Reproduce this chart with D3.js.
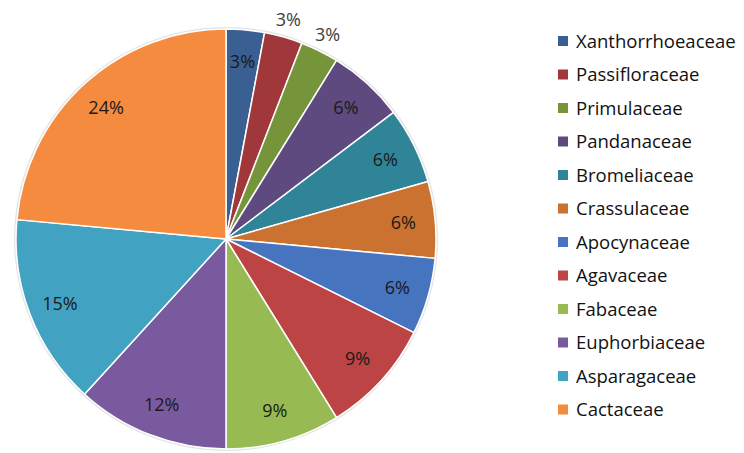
<!DOCTYPE html>
<html><head><meta charset="utf-8">
<script src="https://cdn.jsdelivr.net/npm/d3@7"></script>
<style>body{margin:0;background:#fff;}svg{display:block;}</style>
</head><body>
<svg id="c" width="744" height="453"></svg>
<script>
const categories = ["Xanthorrhoeaceae","Passifloraceae","Primulaceae","Pandanaceae","Bromeliaceae","Crassulaceae","Apocynaceae","Agavaceae","Fabaceae","Euphorbiaceae","Asparagaceae","Cactaceae"];
const counts = [1,1,1,2,2,2,2,3,3,4,5,8];
const colors = ["#3A5F92","#A0373A","#76953A","#5F4A80","#2F8498","#CB7230","#4774BE","#BC4444","#97BB52","#7A5A9E","#42A2C2","#F58B3E"];
const outsideLabels = ["Passifloraceae","Primulaceae"];

const svg = d3.select("#c");
const cx = 226, cy = 239, R = 210;
const total = d3.sum(counts);
const data = categories.map((c,i)=>({name:c, value:counts[i], color:colors[i]}));
const pie = d3.pie().value(d=>d.value).sort(null);
const arcs = pie(data);
const arc = d3.arc().innerRadius(0).outerRadius(R);
const g = svg.append("g").attr("transform",`translate(${cx},${cy})`);
g.append("circle").attr("r",R+1).attr("fill","none").attr("stroke","#e4e4e4").attr("stroke-width",2);
g.selectAll("path").data(arcs).join("path")
  .attr("d",arc).attr("fill",d=>d.data.color)
  .attr("stroke","#fff").attr("stroke-width",1.5).attr("stroke-linejoin","round");
const inArc = d3.arc().innerRadius(178).outerRadius(178);
const outArc = d3.arc().innerRadius(228).outerRadius(228);
const fmt = v => Math.round(v/total*100)+"%";
g.selectAll("text.lbl").data(arcs).join("text").attr("class","lbl")
  .attr("transform",d=>`translate(${(outsideLabels.includes(d.data.name)?outArc:inArc).centroid(d)})`)
  .attr("text-anchor","middle").attr("dy","0.36em")
  .attr("font-family","'Open Sans', sans-serif").attr("font-size",18)
  .attr("fill",d=>outsideLabels.includes(d.data.name)?"#404040":"#1a1a1a")
  .text(d=>fmt(d.data.value));

const legend = svg.append("g");
const y0 = 41, dy = 33.5;
const items = legend.selectAll("g").data(data).join("g")
  .attr("transform",(d,i)=>`translate(558,${y0+i*dy})`);
items.append("rect").attr("x",0).attr("y",-5).attr("width",10).attr("height",10).attr("fill",d=>d.color);
items.append("text").attr("x",18).attr("dy","0.36em")
  .attr("font-family","'Open Sans', sans-serif").attr("font-size",18.5).attr("fill","#111")
  .text(d=>d.name);
</script>
</body></html>
